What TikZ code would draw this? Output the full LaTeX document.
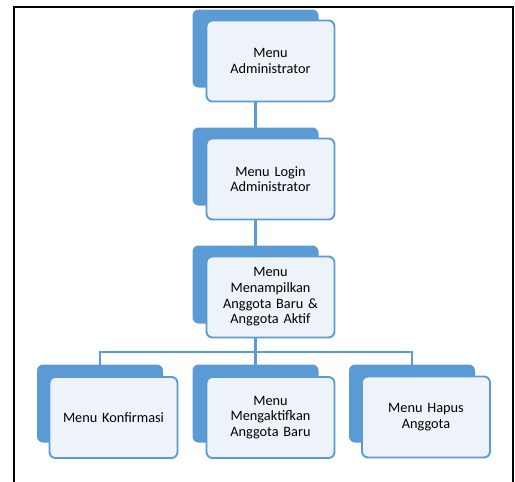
\documentclass[tikz,border=0pt]{standalone}
\usepackage{fontspec}
\setmainfont{Carlito}
\definecolor{accent}{HTML}{5B9BD5}
\definecolor{paper}{HTML}{EEF3FA}
\begin{document}
\begin{tikzpicture}[x=1pt,y=-1pt,
  backbox/.style={fill=accent, rounded corners=6pt, minimum width=126pt, minimum height=78pt, inner sep=0pt},
  frontbox/.style={draw=accent, line width=1.9pt, fill=paper,
    rounded corners=6pt, minimum width=128pt, minimum height=81pt, inner sep=2pt,
    align=center, text width=112pt, text=black, font=\fontsize{14.3}{15.6}\selectfont},
  conn/.style={draw=accent, line width=2.2pt},
  frame/.style={draw=black, line width=2.4pt}]
\useasboundingbox (0,0) rectangle (515,482);

% back panels
\node[backbox] (b1) at (255.5,48.5) {};
\node[backbox] (b2) at (255.5,166.5) {};
\node[backbox] (b3) at (255.5,284.5) {};
\node[backbox] (bA) at (100,403.5) {};
\node[backbox] (bB) at (255.5,403.5) {};
\node[backbox] (bC) at (412,403.5) {};

% connectors
\coordinate (bus) at (0,352);
\draw[conn] (b1.center) -- (b2.center);
\draw[conn] (b2.center) -- (b3.center);
\draw[conn] (b3.center) -- (b3.center |- bus);
\draw[conn] (bA.center) -- (bA.center |- bus) -- (bC.center |- bus) -- (bC.center);
\draw[conn] (b3.center |- bus) -- (bB.center);

% front panels with labels
\node[frontbox] (f1) at ([shift={(15,12.5)}]b1.center) {Menu\\Administrator};
\node[frontbox] (f2) at ([shift={(15,12.5)}]b2.center) {Menu Login\\Administrator};
\node[frontbox] (f3) at ([shift={(15,12.5)}]b3.center) {Menu\\Menampilkan\\Anggota Baru \&\\Anggota Aktif};
\node[frontbox] (fA) at ([shift={(13.5,14)}]bA.center) {Menu Konfirmasi};
\node[frontbox] (fB) at ([shift={(15,14)}]bB.center) {Menu\\Mengaktifkan\\Anggota Baru};
\node[frontbox] (fC) at ([shift={(14,13.5)}]bC.center) {Menu Hapus\\Anggota};

% page frame
\draw[frame] (14,495) -- (14,7) -- (513,7) -- (513,495);
\end{tikzpicture}
\end{document}
